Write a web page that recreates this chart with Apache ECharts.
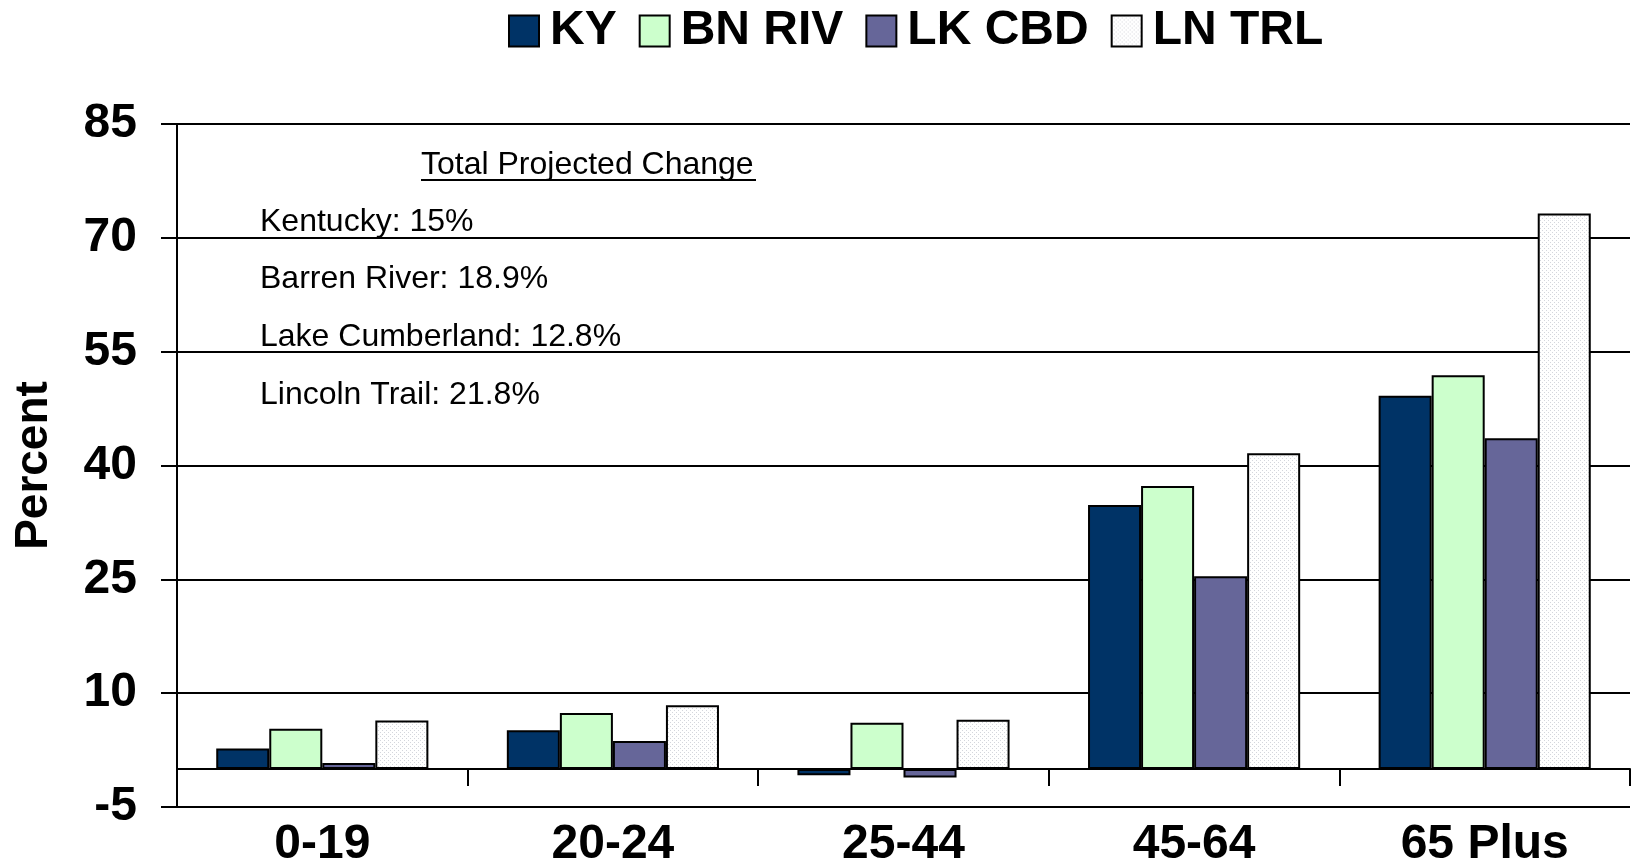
<!DOCTYPE html>
<html>
<head>
<meta charset="utf-8">
<script src="https://cdn.jsdelivr.net/npm/echarts@6/dist/echarts.min.js"></script>
<style>
  html, body { margin: 0; padding: 0; background: #fff; }
  #chart { width: 1634px; height: 865px; }
</style>
</head>
<body>
<div id="chart"></div>
<script>
  // data
  var categories = ['0-19', '20-24', '25-44', '45-64', '65 Plus']
  var seriesNames = ['KY', 'BN RIV', 'LK CBD', 'LN TRL']
  var kyData = [2.7, 5.1, -0.8, 34.8, 49.2]
  var bnData = [5.3, 7.4, 6.1, 37.3, 51.9]
  var lkData = [0.8, 3.7, -1.1, 25.4, 43.6]
  var lnData = [6.4, 8.4, 6.5, 41.6, 73.2]
  var yTicks = [-5, 10, 25, 40, 55, 70, 85]
  var noteTitle = 'Total Projected Change'
  var noteLines = ['Kentucky: 15%', 'Barren River: 18.9%', 'Lake Cumberland: 12.8%', 'Lincoln Trail: 21.8%']

  var FONT = '"Liberation Sans", Arial, Helvetica, sans-serif'

  // light dotted fill for the LN TRL bars
  var dots = document.createElement('canvas')
  dots.width = 4
  dots.height = 4
  var dctx = dots.getContext('2d')
  dctx.fillStyle = '#ffffff'
  dctx.fillRect(0, 0, 4, 4)
  dctx.fillStyle = '#d4d6dc'
  dctx.fillRect(0, 0, 1, 1)
  dctx.fillRect(2, 2, 1, 1)

  var colors = ['#003366', '#CCFFCC', '#666699', { image: dots, repeat: 'repeat' }]
  var values = [kyData, bnData, lkData, lnData]

  var series = []
  for (var i = 0; i < seriesNames.length; i++) {
    series.push({
      name: seriesNames[i],
      type: 'bar',
      data: values[i],
      barGap: '0%',
      barCategoryGap: '27%',
      itemStyle: {
        color: colors[i],
        borderColor: '#000',
        borderWidth: 2
      }
    })
  }

  var graphics = [{
    type: 'text',
    style: {
      text: noteTitle, x: 421, y: 165,
      font: '32px ' + FONT, fill: '#000', textVerticalAlign: 'middle'
    }
  }, {
    type: 'line',
    shape: { x1: 421, y1: 180, x2: 756, y2: 180 },
    style: { stroke: '#000', lineWidth: 2 }
  }]
  var noteY = [222, 279, 337, 395]
  for (var j = 0; j < noteLines.length; j++) {
    graphics.push({
      type: 'text',
      style: {
        text: noteLines[j], x: 260, y: noteY[j],
        font: '32px ' + FONT, fill: '#000', textVerticalAlign: 'middle'
      }
    })
  }

  var boldText = { fontSize: 48, fontWeight: 'bold', color: '#000', fontFamily: FONT }

  var chart = echarts.init(document.getElementById('chart'))
  chart.setOption({
    animation: false,
    textStyle: { fontFamily: FONT },
    legend: {
      data: seriesNames,
      left: 503,
      top: 2,
      itemWidth: 30,
      itemHeight: 31,
      itemGap: 22,
      icon: 'rect',
      itemStyle: { borderColor: '#000', borderWidth: 2 },
      textStyle: { fontSize: 48, fontWeight: 'bold', color: '#000', fontFamily: FONT, padding: [0, 0, 0, 6] }
    },
    grid: {
      left: 177,
      right: 4,
      top: 124,
      bottom: 58,
      outerBoundsMode: 'none'
    },
    xAxis: [{
      // labels along the bottom
      type: 'category',
      data: categories,
      position: 'bottom',
      axisLine: { show: false, onZero: false },
      axisTick: { show: false },
      axisLabel: Object.assign({ margin: 14 }, boldText)
    }, {
      // axis line and ticks at zero
      type: 'category',
      data: categories,
      position: 'bottom',
      axisLine: { onZero: true, lineStyle: { color: '#000', width: 2 } },
      axisTick: { show: true, length: 17, lineStyle: { color: '#000', width: 2 } },
      axisLabel: { show: false }
    }],
    yAxis: {
      type: 'value',
      min: -5,
      max: 85,
      name: 'Percent',
      nameLocation: 'middle',
      nameRotate: 90,
      nameGap: 120,
      nameTextStyle: { fontSize: 46, fontWeight: 'bold', color: '#000', fontFamily: FONT },
      axisLine: { show: true, lineStyle: { color: '#000', width: 2 } },
      axisTick: { show: true, length: 16, customValues: yTicks, lineStyle: { color: '#000', width: 2 } },
      axisLabel: Object.assign({ margin: 40, customValues: yTicks, padding: [7, 0, 0, 0] }, boldText),
      splitLine: { show: true, lineStyle: { color: '#000', width: 2 } }
    },
    graphic: graphics,
    series: series
  })
</script>
</body>
</html>
